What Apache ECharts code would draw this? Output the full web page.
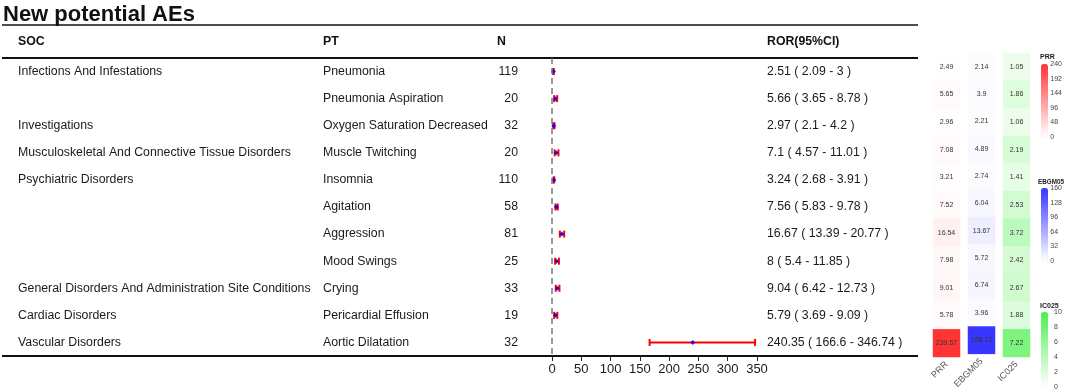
<!DOCTYPE html>
<html>
<head>
<meta charset="utf-8">
<script src="https://cdn.jsdelivr.net/npm/echarts@6/dist/echarts.min.js"></script>
<style>
  html, body { margin: 0; padding: 0; background: #fff; }
  #chart { width: 1065px; height: 391px; }
</style>
</head>
<body>
<div id="chart"></div>
<script>
const soc = ['Infections And Infestations', '', 'Investigations', 'Musculoskeletal And Connective Tissue Disorders',
  'Psychiatric Disorders', '', '', '', 'General Disorders And Administration Site Conditions',
  'Cardiac Disorders', 'Vascular Disorders'];
const pt = ['Pneumonia', 'Pneumonia Aspiration', 'Oxygen Saturation Decreased', 'Muscle Twitching', 'Insomnia',
  'Agitation', 'Aggression', 'Mood Swings', 'Crying', 'Pericardial Effusion', 'Aortic Dilatation'];
const nCases = [119, 20, 32, 20, 110, 58, 81, 25, 33, 19, 32];
const ror = [2.51, 5.66, 2.97, 7.1, 3.24, 7.56, 16.67, 8, 9.04, 5.79, 240.35];
const rorLow = [2.09, 3.65, 2.1, 4.57, 2.68, 5.83, 13.39, 5.4, 6.42, 3.69, 166.6];
const rorHigh = [3, 8.78, 4.2, 11.01, 3.91, 9.78, 20.77, 11.85, 12.73, 9.09, 346.74];
const prr = [2.49, 5.65, 2.96, 7.08, 3.21, 7.52, 16.54, 7.98, 9.01, 5.78, 239.57];
const ebgm05 = [2.14, 3.9, 2.21, 4.89, 2.74, 6.04, 13.67, 5.72, 6.74, 3.96, 158.12];
const ic025 = [1.05, 1.86, 1.06, 2.19, 1.41, 2.53, 3.72, 2.42, 2.67, 1.88, 7.22];
const metrics = ['PRR', 'EBGM05', 'IC025'];
const legendMax = [240, 160, 10];
const legendStep = [48, 32, 2];
const metricColors = ['#FF3535', '#3535FF', '#4CF04C'];

const FONT = '"Liberation Sans", Arial, sans-serif';
const rows = pt.map((_, i) => i);
const rorText = ror.map((v, i) => v + ' ( ' + rorLow[i] + ' - ' + rorHigh[i] + ' )');

const chart = echarts.init(document.getElementById('chart'));

// label-only category axes laid over the forest grid
function textAxis(labels, position, offset, align) {
  return {
    gridIndex: 0, type: 'category', data: labels, inverse: true, position: position, offset: offset,
    axisLine: { show: false }, axisTick: { show: false }, splitLine: { show: false },
    axisLabel: { margin: 0, align: align, fontSize: 12.3, color: '#1a1a1a', fontFamily: FONT }
  };
}

const grids = [{ left: 552, width: 205, top: 58, height: 298 }];
const xAxes = [{
  gridIndex: 0, type: 'value', min: 0, max: 350, interval: 50,
  axisLine: { show: false },
  axisTick: { show: true, length: 5, lineStyle: { color: '#222' } },
  splitLine: { show: false },
  axisLabel: { fontSize: 13, color: '#1a1a1a', fontFamily: FONT, margin: 7 }
}];
const yAxes = [
  textAxis(pt, 'left', 229, 'left'),
  textAxis(soc, 'left', 534, 'left'),
  textAxis(nCases, 'left', 34, 'right'),
  textAxis(rorText, 'right', 10, 'left')
];

const series = [
  {
    type: 'custom', xAxisIndex: 0, yAxisIndex: 0,
    data: rows.map(i => [i, rorLow[i], rorHigh[i]]),
    renderItem: function (params, api) {
      const a = api.coord([api.value(1), api.value(0)]);
      const b = api.coord([api.value(2), api.value(0)]);
      const h = 3.5;
      const style = { stroke: '#FF0000', lineWidth: 2 };
      return {
        type: 'group',
        children: [
          { type: 'line', shape: { x1: a[0], y1: a[1], x2: b[0], y2: b[1] }, style: style },
          { type: 'line', shape: { x1: a[0], y1: a[1] - h, x2: a[0], y2: a[1] + h }, style: style },
          { type: 'line', shape: { x1: b[0], y1: b[1] - h, x2: b[0], y2: b[1] + h }, style: style }
        ]
      };
    },
    z: 2
  },
  {
    type: 'scatter', xAxisIndex: 0, yAxisIndex: 0,
    data: rows.map(i => [ror[i], i]),
    symbol: 'diamond', symbolSize: 5,
    itemStyle: { color: '#0000FF' },
    z: 3,
    markLine: {
      silent: true, symbol: 'none', label: { show: false },
      lineStyle: { color: '#777', type: [6, 4], width: 1.5 },
      data: [{ xAxis: 0 }]
    }
  }
];

const metricData = [prr, ebgm05, ic025];
const visualMaps = [];
const legendTops = [64, 188, 312];
const legendHeights = [73, 73, 75];
const cellLefts = [933, 968, 1003];

metrics.forEach((m, k) => {
  const gi = grids.length;
  grids.push({ left: cellLefts[k], width: 27, top: 53, height: 304 });
  xAxes.push({
    gridIndex: gi, type: 'category', data: [m],
    axisLine: { show: false }, axisTick: { show: false },
    axisLabel: { rotate: 45, fontSize: 9, color: '#555', fontFamily: FONT, margin: 6 }
  });
  yAxes.push({
    gridIndex: gi, type: 'category', data: rows, inverse: true, show: false
  });
  const si = series.length;
  series.push({
    type: 'heatmap', xAxisIndex: xAxes.length - 1, yAxisIndex: yAxes.length - 1,
    data: rows.map(i => [0, i, metricData[k][i]]),
    label: {
      show: true, fontSize: 7, color: '#333', fontFamily: FONT,
      formatter: p => String(p.value[2])
    },
    itemStyle: { borderWidth: 0 }
  });
  visualMaps.push({
    type: 'continuous', seriesIndex: si, min: 0, max: legendMax[k], dimension: 2,
    calculable: false, left: 1041, top: legendTops[k], padding: 0,
    itemWidth: 7, itemHeight: legendHeights[k], text: ['', ''], showLabel: false,
    inRange: { color: ['#FFFFFF', metricColors[k]] }
  });
  // tick scale for the colour bar
  const lg = grids.length;
  grids.push({ left: 1041, width: 7, top: legendTops[k], height: legendHeights[k] });
  xAxes.push({ gridIndex: lg, type: 'value', show: false });
  yAxes.push({
    gridIndex: lg, type: 'value', min: 0, max: legendMax[k], interval: legendStep[k], position: 'right',
    axisLine: { show: false }, axisTick: { show: false }, splitLine: { show: false },
    axisLabel: { fontSize: 7, color: '#444', fontFamily: FONT, margin: 6 }
  });
});

const lineStyle = { stroke: '#111', lineWidth: 1.6 };
const headStyle = { fontSize: 12.3, fontWeight: 'bold', fill: '#111', fontFamily: FONT, verticalAlign: 'middle' };
const legTitle = { fontSize: 7, fontWeight: 'bold', fill: '#222', fontFamily: FONT, verticalAlign: 'middle' };

chart.setOption({
  animation: false,
  textStyle: { fontFamily: FONT },
  grid: grids,
  xAxis: xAxes,
  yAxis: yAxes,
  visualMap: visualMaps,
  series: series,
  graphic: [
    { type: 'text', left: 3, top: 4, style: { text: 'New potential AEs', fontSize: 22, fontWeight: 'bold', fill: '#111', fontFamily: FONT } },
    { type: 'line', shape: { x1: 2, y1: 25, x2: 918, y2: 25 }, style: lineStyle },
    { type: 'line', shape: { x1: 2, y1: 58, x2: 918, y2: 58 }, style: { stroke: '#111', lineWidth: 2 } },
    { type: 'line', shape: { x1: 2, y1: 356, x2: 918, y2: 356 }, style: { stroke: '#111', lineWidth: 2 } },
    { type: 'text', x: 18, y: 42, style: Object.assign({ text: 'SOC' }, headStyle) },
    { type: 'text', x: 323, y: 42, style: Object.assign({ text: 'PT' }, headStyle) },
    { type: 'text', x: 497, y: 42, style: Object.assign({ text: 'N' }, headStyle) },
    { type: 'text', x: 767, y: 42, style: Object.assign({ text: 'ROR(95%CI)' }, headStyle) },
    { type: 'text', x: 1040, y: 57, style: Object.assign({ text: 'PRR' }, legTitle) },
    { type: 'text', x: 1038, y: 182, style: Object.assign({}, legTitle, { text: 'EBGM05', fontSize: 6.3 }) },
    { type: 'text', x: 1040, y: 306, style: Object.assign({ text: 'IC025' }, legTitle) }
  ]
});
</script>
</body>
</html>
